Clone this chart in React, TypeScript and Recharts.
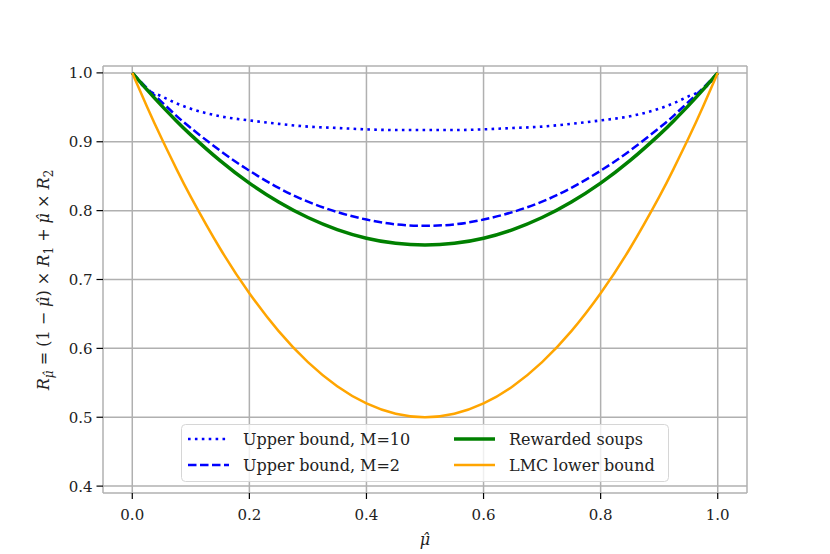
import React from "react";
import { LineChart, Line, XAxis, YAxis, CartesianGrid, Legend, Label } from "recharts";

// values
const mu = [0, 0.025, 0.05, 0.075, 0.1, 0.15, 0.2, 0.25, 0.3, 0.35, 0.4, 0.45, 0.5, 0.55, 0.6, 0.65, 0.7, 0.75, 0.8, 0.85, 0.9, 0.925, 0.95, 0.975, 1];
const upperM10 = [1.0, 0.976, 0.966, 0.956, 0.948, 0.937, 0.931, 0.926, 0.922, 0.92, 0.918, 0.917, 0.917, 0.917, 0.918, 0.92, 0.922, 0.926, 0.931, 0.937, 0.948, 0.956, 0.966, 0.976, 1.0];
const upperM2 = [1.0, 0.978, 0.958, 0.938, 0.92, 0.887, 0.858, 0.833, 0.813, 0.798, 0.787, 0.78, 0.778, 0.78, 0.787, 0.798, 0.813, 0.833, 0.858, 0.887, 0.92, 0.938, 0.958, 0.978, 1.0];
const rewardedSoups = [1.0, 0.9756, 0.9525, 0.9306, 0.91, 0.8725, 0.84, 0.8125, 0.79, 0.7725, 0.76, 0.7525, 0.75, 0.7525, 0.76, 0.7725, 0.79, 0.8125, 0.84, 0.8725, 0.91, 0.9306, 0.9525, 0.9756, 1.0];
const lmcLower = [1.0, 0.9513, 0.905, 0.8613, 0.82, 0.745, 0.68, 0.625, 0.58, 0.545, 0.52, 0.505, 0.5, 0.505, 0.52, 0.545, 0.58, 0.625, 0.68, 0.745, 0.82, 0.8613, 0.905, 0.9513, 1.0];

const xTicks = [0, 0.2, 0.4, 0.6, 0.8, 1.0];
const yTicks = [0.4, 0.5, 0.6, 0.7, 0.8, 0.9, 1.0];

const series = [
  { key: "m10", name: "Upper bound, M=10", color: "#0000ff", width: 2.6, dash: "2.6 4.3", curve: "monotone" },
  { key: "m2", name: "Upper bound, M=2", color: "#0000ff", width: 2.5, dash: "8.5 3.5", curve: "natural" },
  { key: "soups", name: "Rewarded soups", color: "#008000", width: 3.5, dash: undefined, curve: "natural" },
  { key: "lmc", name: "LMC lower bound", color: "#ffa500", width: 2.5, dash: undefined, curve: "natural" },
];

const data = mu.map((m, i) => ({
  mu: m,
  m10: upperM10[i],
  m2: upperM2[i],
  soups: rewardedSoups[i],
  lmc: lmcLower[i],
}));

const FONT = "'DejaVu Serif', serif";
const HAT = "\u03bc\u0302";
const FS = 15;

function XTick({ x, y, payload }: any) {
  return (
    <g>
      <line x1={x} x2={x} y1={y} y2={y + 6} stroke="#000" strokeWidth={1.2} />
      <text x={x} y={y + 27} textAnchor="middle" fontFamily={FONT} fontSize={FS} fill="#222">
        {payload.value.toFixed(1)}
      </text>
    </g>
  );
}

function YTick({ x, y, payload }: any) {
  return (
    <g>
      <line x1={x - 6.5} x2={x} y1={y} y2={y} stroke="#000" strokeWidth={1.2} />
      <text x={x - 10.5} y={y + 5.5} textAnchor="end" fontFamily={FONT} fontSize={FS} fill="#222">
        {payload.value.toFixed(1)}
      </text>
    </g>
  );
}

function YLabel() {
  const cx = 49;
  const cy = 280;
  return (
    <text
      x={cx}
      y={cy}
      transform={`rotate(-90, ${cx}, ${cy})`}
      textAnchor="middle"
      fontFamily={FONT}
      fontSize={16}
      fill="#222"
    >
      <tspan fontStyle="italic">R</tspan>
      <tspan fontStyle="italic" fontSize={12} dy={4}>{HAT}</tspan>
      <tspan dy={-4}> = (1 − </tspan>
      <tspan fontStyle="italic">{HAT}</tspan>
      <tspan>) × </tspan>
      <tspan fontStyle="italic">R</tspan>
      <tspan fontSize={12} dy={4}>1</tspan>
      <tspan dy={-4}> + </tspan>
      <tspan fontStyle="italic">{HAT}</tspan>
      <tspan> × </tspan>
      <tspan fontStyle="italic">R</tspan>
      <tspan fontSize={12} dy={4}>2</tspan>
    </text>
  );
}

function XLabel() {
  return (
    <text x={425} y={545} textAnchor="middle" fontFamily={FONT} fontSize={16} fontStyle="italic" fill="#222">
      {HAT}
    </text>
  );
}

function LegendBox() {
  const rows = [
    { s: series[0], x: 7, y: 15 },
    { s: series[1], x: 7, y: 41 },
    { s: series[2], x: 273, y: 15 },
    { s: series[3], x: 273, y: 41 },
  ];
  return (
    <svg width={488} height={58} style={{ display: "block" }}>
      <rect x={0.5} y={0.5} width={487} height={57} rx={4} fill="rgba(255,255,255,0.8)" stroke="#d6d6d6" strokeWidth={1} />
      {rows.map(({ s, x, y }) => (
        <g key={s.key}>
          <line x1={x} x2={x + 41} y1={y} y2={y} stroke={s.color} strokeWidth={s.width} strokeDasharray={s.dash} />
          <text x={x + 55} y={y + 6} fontFamily={FONT} fontSize={16} fill="#222">
            {s.name}
          </text>
        </g>
      ))}
    </svg>
  );
}

export default function App() {
  return (
    <div style={{ position: "absolute", left: 0, top: 0, width: 830, height: 554, background: "#fff" }}>
      <LineChart width={830} height={554} data={data} margin={{ top: 66, right: 83, bottom: 8, left: 43 }}>
        <CartesianGrid stroke="#b0b0b0" strokeWidth={1.5} />
        <XAxis
          dataKey="mu"
          type="number"
          domain={[-0.05, 1.05]}
          ticks={xTicks}
          allowDataOverflow
          axisLine={false}
          tickLine={false}
          tickSize={0}
          tickMargin={0}
          height={53}
          tick={XTick}
        >
          <Label content={XLabel} />
        </XAxis>
        <YAxis
          type="number"
          domain={[0.39, 1.01]}
          ticks={yTicks}
          allowDataOverflow
          axisLine={false}
          tickLine={false}
          tickSize={0}
          tickMargin={0}
          width={60}
          tick={YTick}
        >
          <Label content={YLabel} />
        </YAxis>
        {series.map((s) => (
          <Line
            key={s.key}
            dataKey={s.key}
            name={s.name}
            type={s.curve as any}
            stroke={s.color}
            strokeWidth={s.width}
            strokeDasharray={s.dash}
            dot={false}
            activeDot={false}
            isAnimationActive={false}
          />
        ))}
        <Legend
          layout="horizontal"
          verticalAlign="middle"
          align="center"
          content={LegendBox}
          wrapperStyle={{ left: 181, top: 424, width: 488, height: 58 }}
        />
      </LineChart>
    </div>
  );
}
